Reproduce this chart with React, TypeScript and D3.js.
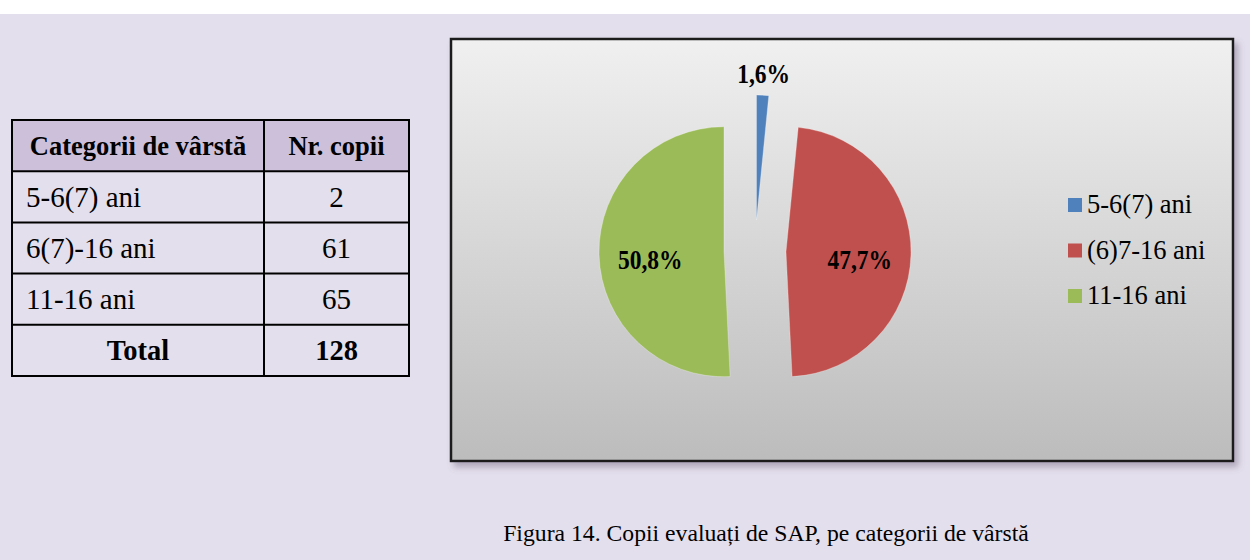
import React from "react";
import * as d3 from "d3";

// table data
const tableHeader = ["Categorii de vârstă", "Nr. copii"];
const tableCategories = ["5-6(7) ani", "6(7)-16 ani", "11-16 ani"];
const tableCounts = [2, 61, 65];
const totalLabel = "Total";

// pie data
const legendLabels = ["5-6(7) ani", "(6)7-16 ani", "11-16 ani"];
const sliceValues = [2, 61, 65];
const sliceColors = ["#4f81bd", "#c0504d", "#9bbb59"];

const caption = "Figura 14. Copii evaluați de SAP, pe categorii de vârstă";

const W = 1250, H = 560;
const FONT = "'Liberation Serif', 'Times New Roman', serif";

function formatPct(v: number, total: number) {
    return (v / total * 100).toFixed(1).replace(".", ",") + "%";
}

function DataTable() {
    const total = d3.sum(tableCounts);
    const rows = ["header", ...tableCategories, "total"];
    const y = d3.scaleBand().domain(rows).range([120, 376]);
    const left = 12, mid = 264, right = 409;
    const c1 = (left + mid) / 2, c2 = (mid + right) / 2;
    const bodyRows = tableCategories.map((c, i) => ({ label: c, value: String(tableCounts[i]) }));

    return (
        <g fontFamily={FONT} fill="#000">
            <rect x={left} y={y("header")} width={right - left} height={y.bandwidth()} fill="#ccc0da" />
            {bodyRows.map(r => (
                <g key={r.label}>
                    <text x={26} y={y(r.label)! + y.bandwidth() / 2 + 10} fontSize={29}>{r.label}</text>
                    <text x={c2} y={y(r.label)! + y.bandwidth() / 2 + 10} fontSize={29} textAnchor="middle">{r.value}</text>
                </g>
            ))}
            <text x={c1} y={y("header")! + y.bandwidth() / 2 + 9} fontSize={26.5} fontWeight="bold" textAnchor="middle">{tableHeader[0]}</text>
            <text x={c2} y={y("header")! + y.bandwidth() / 2 + 9} fontSize={26.5} fontWeight="bold" textAnchor="middle">{tableHeader[1]}</text>
            <text x={c1} y={y("total")! + y.bandwidth() / 2 + 10} fontSize={28.5} fontWeight="bold" textAnchor="middle">{totalLabel}</text>
            <text x={c2} y={y("total")! + y.bandwidth() / 2 + 10} fontSize={28.5} fontWeight="bold" textAnchor="middle">{total}</text>
            {/* grid lines */}
            {rows.slice(1).map(r => (
                <line key={r} x1={left} x2={right} y1={y(r)} y2={y(r)} stroke="#000" strokeWidth={2} />
            ))}
            <line x1={mid} x2={mid} y1={120} y2={376} stroke="#000" strokeWidth={2} />
            <rect x={left} y={120} width={right - left} height={256} fill="none" stroke="#000" strokeWidth={2} />
        </g>
    );
}

function PieChart() {
    const frame = { x: 451, y: 39, w: 782, h: 422 };
    const cx = 755, cy = 251, R = 125, explode = 31;
    const total = d3.sum(sliceValues);
    const pie = d3.pie<number>().sort(null).value(d => d)(sliceValues);
    const arc = d3.arc<d3.PieArcDatum<number>>().innerRadius(0).outerRadius(R);
    const legendY = d3.scalePoint().domain(legendLabels).range([205, 296]);

    return (
        <g fontFamily={FONT}>
            <defs>
                <linearGradient id="plotBg" x1="0" y1="0" x2="0" y2="1">
                    <stop offset="0%" stopColor="#f0f0f0" />
                    <stop offset="100%" stopColor="#bcbcbc" />
                </linearGradient>
                <filter id="shadow" x="-5%" y="-5%" width="112%" height="115%">
                    <feDropShadow dx="4" dy="5" stdDeviation="3" floodColor="#6e6680" floodOpacity="0.45" />
                </filter>
            </defs>
            <rect x={frame.x} y={frame.y} width={frame.w} height={frame.h} fill="url(#plotBg)"
                stroke="#1c1c1c" strokeWidth={2.5} filter="url(#shadow)" />
            {pie.map((d, i) => {
                const m = (d.startAngle + d.endAngle) / 2;
                const ox = cx + Math.sin(m) * explode;
                const oy = cy - Math.cos(m) * explode;
                const small = d.value / total < 0.05;
                const lr = small ? R + 20 : R * 0.59;
                const lx = ox + Math.sin(m) * lr;
                const ly = oy - Math.cos(m) * lr;
                return (
                    <g key={i}>
                        <path d={arc(d)!} transform={`translate(${ox},${oy})`} fill={sliceColors[i]}
                            stroke="#ffffff" strokeOpacity={0.35} strokeWidth={0.8} />
                        {/* data labels are drawn slightly condensed, as in the source picture */}
                        <g transform={`translate(${lx},${ly}) scale(0.84,1)`}>
                            <text x={0} y={small ? -2 : 0} dy={small ? "0.35em" : "0.55em"} textAnchor="middle"
                                fontSize={28} fontWeight="bold" fill="#000">{formatPct(d.value, total)}</text>
                        </g>
                    </g>
                );
            })}
            {legendLabels.map((l, i) => (
                <g key={l}>
                    <rect x={1068} y={legendY(l)! - 7} width={14} height={14} fill={sliceColors[i]} />
                    <text x={1087} y={legendY(l)! + 8} fontSize={26.5} fill="#000">{l}</text>
                </g>
            ))}
        </g>
    );
}

export default function App() {
    return (
        <svg width={W} height={H} viewBox={`0 0 ${W} ${H}`}
            style={{ position: "absolute", left: 0, top: 0, display: "block" }}>
            <rect x={0} y={0} width={W} height={H} fill="#e4dfec" />
            <rect x={0} y={0} width={W} height={14} fill="#ffffff" />
            <DataTable />
            <PieChart />
            <text x={766} y={541} textAnchor="middle" fontFamily={FONT} fontSize={23.7} fill="#000">{caption}</text>
        </svg>
    );
}
